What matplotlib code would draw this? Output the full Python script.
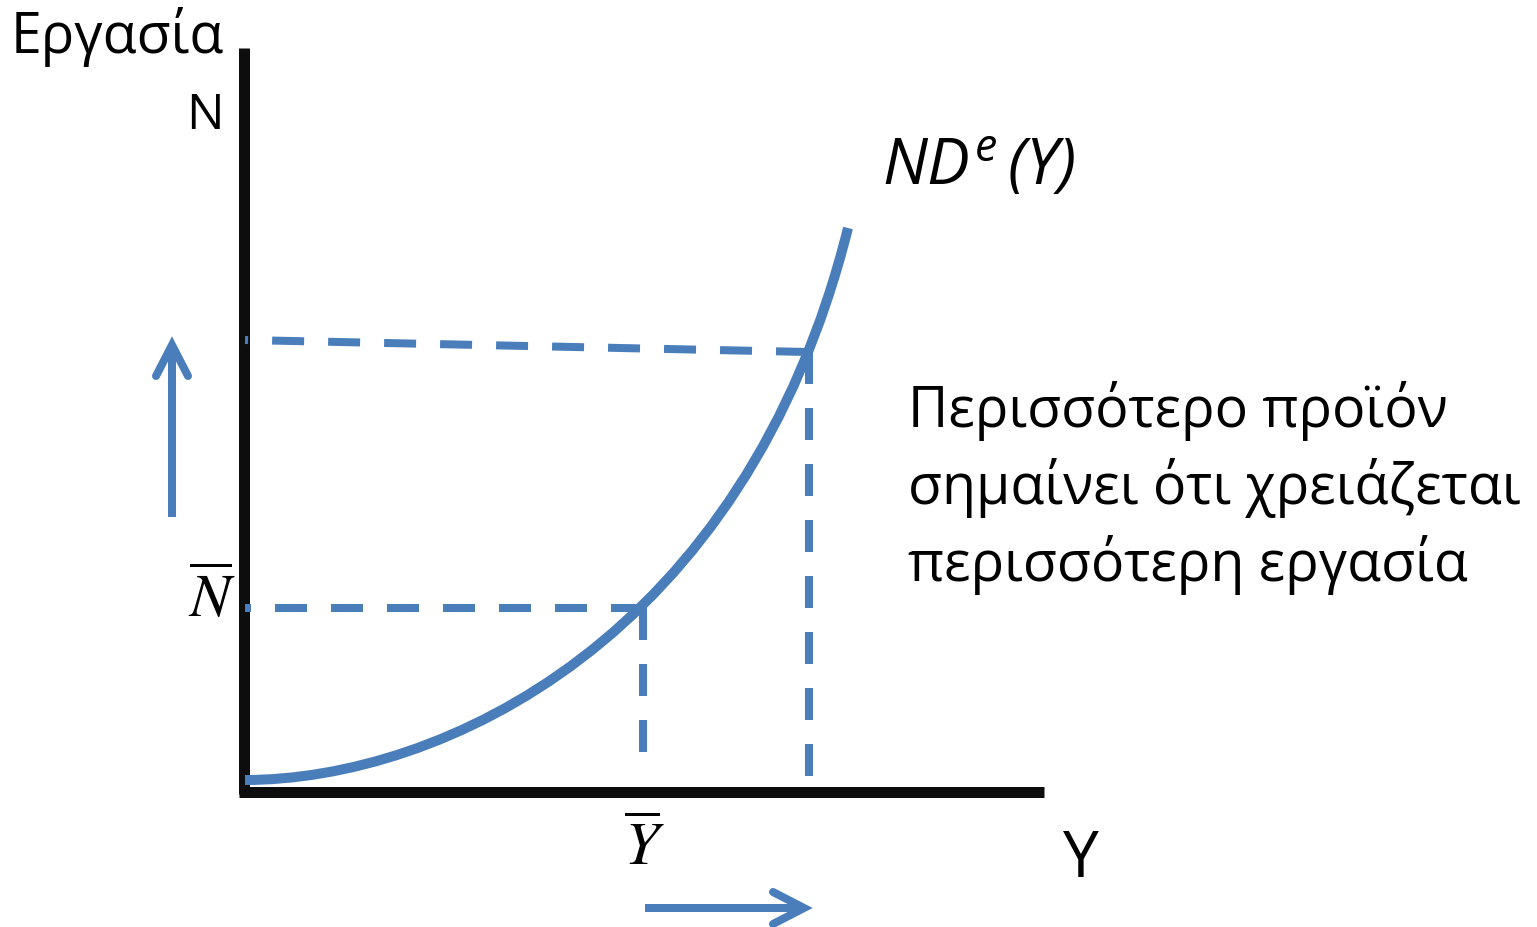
import matplotlib
matplotlib.use("Agg")
import matplotlib.pyplot as plt
from matplotlib.path import Path
from matplotlib.patches import PathPatch

# ---- data (diagram coordinates, in image pixels, y downward) ----
# ND^e(Y) curve: cubic Bezier control points
curve_ctrl_x = [245, 440, 745, 848]
curve_ctrl_y = [780, 780, 640, 228]

y_bar_x, n_bar_y = 643, 608          # equilibrium point (Ybar, Nbar)
y_high_x, n_high_y = 808, 352        # higher output point
n_high_left_y = 340                  # left end of upper dashed guide

axis_origin = (244, 792)
axis_top_y = 48
axis_right_x = 1044

up_arrow_x, up_arrow_y = [172, 172], [517, 345]
right_arrow_x, right_arrow_y = [645, 804], [908, 908]

label_work = "Εργασία"
label_N = "N"
label_Y = "Y"
label_curve = r"$ND^{e}\,(Y)$"
label_Nbar = r"$\overline{N}$"
label_Ybar = r"$\overline{Y}$"
note_lines = ["Περισσότερο προϊόν", "σημαίνει ότι χρειάζεται", "περισσότερη εργασία"]

BLUE = "#4a7ebb"
BLACK = "#0d0d0d"
FONT = "Open Sans"

plt.rcParams["mathtext.fontset"] = "custom"
plt.rcParams["mathtext.it"] = "Open Sans:italic"
plt.rcParams["mathtext.rm"] = "Open Sans:italic"

px = 72 / 100.0  # points per pixel

fig = plt.figure(figsize=(15.37, 9.27), dpi=100)
ax = fig.add_axes([0, 0, 1, 1])
ax.set_xlim(0, 1537)
ax.set_ylim(927, 0)
ax.axis("off")

# axes of the diagram
ox, oy = axis_origin
ax.plot([ox, ox], [axis_top_y, oy + 2], color=BLACK, lw=11 * px, solid_capstyle="butt", zorder=1)
ax.plot([ox - 5, axis_right_x], [oy, oy], color=BLACK, lw=11 * px, solid_capstyle="butt", zorder=1)

# dashed guides (drawn from the curve towards the axes)
dash = dict(color=BLUE, lw=8 * px, linestyle=(0, (4, 3)), dash_capstyle="butt", zorder=2)
ax.plot([y_bar_x, ox + 1], [n_bar_y, n_bar_y], **dash)
ax.plot([y_bar_x, y_bar_x], [n_bar_y, 757], **dash)
ax.plot([y_high_x, ox + 1], [n_high_y, n_high_left_y], **dash)
ax.plot([y_high_x + 1, y_high_x + 1], [n_high_y, 776], **dash)

# curve
verts = list(zip(curve_ctrl_x, curve_ctrl_y))
codes = [Path.MOVETO, Path.CURVE4, Path.CURVE4, Path.CURVE4]
ax.add_patch(PathPatch(Path(verts, codes), facecolor="none", edgecolor=BLUE,
                       lw=10 * px, capstyle="butt", zorder=3))

# arrows (open heads)
def open_arrow(xs, ys, head_len=31, head_half=16):
    x0, x1 = xs
    y0, y1 = ys
    ax.plot(xs, ys, color=BLUE, lw=8 * px, solid_capstyle="butt", zorder=3)
    dx, dy = x1 - x0, y1 - y0
    L = (dx ** 2 + dy ** 2) ** 0.5
    ux, uy = dx / L, dy / L
    bx, by = x1 - ux * head_len, y1 - uy * head_len
    nx, ny = -uy, ux
    ax.plot([bx + nx * head_half, x1, bx - nx * head_half],
            [by + ny * head_half, y1, by - ny * head_half],
            color=BLUE, lw=8 * px, solid_capstyle="round", solid_joinstyle="miter", zorder=3)

open_arrow(up_arrow_x, up_arrow_y)
open_arrow(right_arrow_x, right_arrow_y)

# texts
ax.text(11, 53, label_work, fontsize=40, family=FONT, ha="left", va="baseline", color="black")
ax.text(186, 129, label_N, fontsize=36, family=FONT, ha="left", va="baseline", color="black")
ax.text(1063, 877, label_Y, fontsize=46, family=FONT, ha="left", va="baseline", color="black")
ax.text(882, 185, label_curve, fontsize=46, ha="left", va="baseline", color="black")
ax.text(188, 617, label_Nbar, fontsize=44, ha="left", va="baseline", color="black",
        math_fontfamily="stix")
ax.text(624, 865, label_Ybar, fontsize=44, ha="left", va="baseline", color="black",
        math_fontfamily="stix")

for i, line in enumerate(note_lines):
    ax.text(908, 427 + 77 * i, line, fontsize=40, family=FONT, ha="left", va="baseline",
            color="black")

fig.savefig("out.png", dpi=100, facecolor="white")
